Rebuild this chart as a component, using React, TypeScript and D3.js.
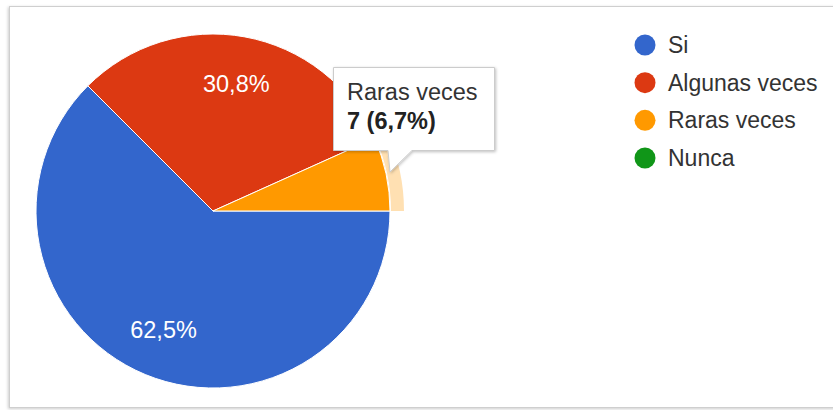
import React from "react";
import * as d3 from "d3";

const categories = ["Si", "Algunas veces", "Raras veces", "Nunca"];
const values = [65, 32, 7, 0];
const percentLabels = ["62,5%", "30,8%", "6,7%", "0%"];
const colors = ["#3366cc", "#dc3912", "#ff9900", "#109618"];
const tooltipTitle = "Raras veces";
const tooltipValue = "7 (6,7%)";
const highlighted = 2;

const W = 833;
const H = 410;
const cx = 213;
const cy = 211;
const R = 177;
const font = "'Liberation Sans', Arial, sans-serif";

export default function App() {
  const pie = d3
    .pie<number>()
    .sort(null)
    .startAngle(Math.PI / 2)
    .endAngle(Math.PI / 2 + 2 * Math.PI)
    .value((d) => d);
  const arcs = pie(values);
  const arc = d3.arc<d3.PieArcDatum<number>>().innerRadius(0).outerRadius(R);
  const ring = d3.arc<d3.PieArcDatum<number>>().innerRadius(R + 1).outerRadius(R + 14);
  const labelArc = d3.arc<d3.PieArcDatum<number>>().innerRadius(R * 0.73).outerRadius(R * 0.73);
  const total = d3.sum(values);
  const legendY = d3.scalePoint<string>().domain(categories).range([45, 158]);

  return (
    <div style={{ position: "absolute", left: 0, top: 0 }}>
      <svg width={W} height={H} style={{ display: "block" }}>
        <defs>
          <filter id="sh" x="-20%" y="-20%" width="140%" height="140%">
            <feDropShadow dx="1" dy="1" stdDeviation="1.5" floodColor="#000" floodOpacity="0.25" />
          </filter>
          <filter id="fsh" x="-5%" y="-5%" width="110%" height="110%">
            <feDropShadow dx="-1" dy="1" stdDeviation="1.5" floodColor="#000" floodOpacity="0.2" />
          </filter>
        </defs>
        <rect x={0} y={0} width={W} height={H} fill="#fff" />
        <rect x={9.5} y={6.5} width={W + 10} height={401} fill="#fff" stroke="#cfcfcf" filter="url(#fsh)" />
        <g transform={`translate(${cx},${cy})`}>
          {arcs.map((a, i) =>
            a.value > 0 ? (
              <path key={i} d={arc(a) || ""} fill={colors[i]} stroke="#fff" strokeWidth={1} />
            ) : null
          )}
          {arcs[highlighted].value > 0 && (
            <path d={ring(arcs[highlighted]) || ""} fill={colors[highlighted]} opacity={0.3} />
          )}
          {arcs.map((a, i) => {
            if (a.value / total < 0.1) return null;
            const [x, y] = labelArc.centroid(a);
            return (
              <text
                key={i}
                x={x}
                y={y + 8}
                textAnchor="middle"
                fill="#fff"
                fontFamily={font}
                fontSize={23.5}
              >
                {percentLabels[i]}
              </text>
            );
          })}
        </g>
        <g>
          {categories.map((c, i) => (
            <g key={c} transform={`translate(0,${legendY(c)})`}>
              <circle cx={645} cy={0} r={10.5} fill={colors[i]} />
              <text x={668} y={8} fontFamily={font} fontSize={23} fill="#333">
                {c}
              </text>
            </g>
          ))}
        </g>
        <g filter="url(#sh)">
          <path
            d="M333.5,67.5 H494.5 V150.5 H412 L390,172 L388,150.5 H333.5 Z"
            fill="#fff"
            stroke="#cccccc"
            strokeWidth={1}
          />
        </g>
        <text x={347} y={100} fontFamily={font} fontSize={23.5} fill="#333">
          {tooltipTitle}
        </text>
        <text x={347} y={129} fontFamily={font} fontSize={23.5} fontWeight="bold" fill="#222">
          {tooltipValue}
        </text>
      </svg>
    </div>
  );
}
